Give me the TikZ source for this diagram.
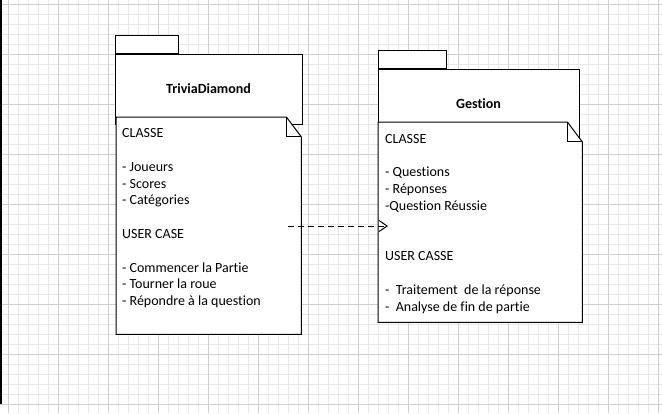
\documentclass[tikz,border=0pt]{standalone}
\usepackage{fontspec}
\setmainfont{Carlito}[Ligatures=NoCommon]
\usetikzlibrary{arrows.meta}

\newcommand\notebox[1]{%
\fill[white] (#1.north west) -- ([xshift=-15pt]#1.north east)
  -- ([yshift=-20pt]#1.north east) -- (#1.south east) -- (#1.south west) -- cycle;
\draw[frame] (#1.north west) -- ([xshift=-15pt]#1.north east)
  -- ([yshift=-20pt]#1.north east) -- (#1.south east) -- (#1.south west) -- cycle;
\draw[frame] ([xshift=-15pt]#1.north east) -- ([xshift=-15pt,yshift=-19pt]#1.north east)
  -- ([yshift=-19pt]#1.north east);}

\begin{document}
\begin{tikzpicture}
[x=1pt,y=-1pt,
frame/.style={draw=black,line width=1pt},
tab/.style={frame,fill=white,rectangle,inner sep=0pt,minimum height=18pt},
header/.style={frame,fill=white,rectangle,inner sep=0pt,minimum height=70pt,
font=\bfseries\fontsize{14}{16.8}\selectfont},
note/.style={rectangle,inner sep=0pt,anchor=north west},
notetext/.style={anchor=north west,inner sep=0pt,align=left,
font=\fontsize{14}{16.8}\selectfont},
depends/.style={line width=1pt,dash pattern=on 6pt off 4pt,
-{Straight Barb[length=8pt,width=11pt]}},
gridthin/.style={draw=black!9,line width=1pt},
gridthick/.style={draw=black!19,line width=1pt}]

\useasboundingbox (0,0) rectangle (662,413);

% background grid
\foreach \x in {8,18,...,658} \draw[gridthin] (\x,0) -- (\x,413);
\foreach \y in {4,14,...,404} \draw[gridthin] (0,\y) -- (662,\y);
\foreach \x in {8,58,...,658} \draw[gridthick] (\x,0) -- (\x,413);
\foreach \y in {4,54,...,404} \draw[gridthick] (0,\y) -- (662,\y);
\draw[line width=2pt] (1,0) -- (1,404);

% package TriviaDiamond
\node[header,minimum width=187pt] (hdTrivia) at (208.5,89) {TriviaDiamond};
\node[tab,minimum width=63pt,anchor=south west] (tabTrivia) at (hdTrivia.north west) {};
\node[note,minimum width=185pt,minimum height=217pt] (ntTrivia) at (116,117) {};
\notebox{ntTrivia}
\node[notetext] (txTrivia) at (122,128.5) {CLASSE\\[16.8pt]
- Joueurs\\
- Scores\\
- Catégories\\[16.8pt]
USER CASE\\[16.8pt]
- Commencer la Partie\\
- Tourner la roue\\
- Répondre à la question};

% package Gestion
\node[header,minimum width=201pt] (hdGestion) at (478.5,104) {Gestion};
\node[tab,minimum width=68pt,anchor=south west] (tabGestion) at (hdGestion.north west) {};
\node[note,minimum width=204pt,minimum height=200pt] (ntGestion) at (378,122) {};
\notebox{ntGestion}
\node[notetext] (txGestion) at (385,134) {CLASSE\\[16.8pt]
- Questions\\
- Réponses\\
-Question Réussie\\[33.6pt]
USER CASSE\\[16.8pt]
-\ \ Traitement\ \ de la réponse\\
-\ \ Analyse de fin de partie};

% dependency
\coordinate (useTrivia) at (288,226);
\coordinate (useGestion) at (388,226);
\draw[depends] (useTrivia) -- (useGestion);
\end{tikzpicture}
\end{document}
